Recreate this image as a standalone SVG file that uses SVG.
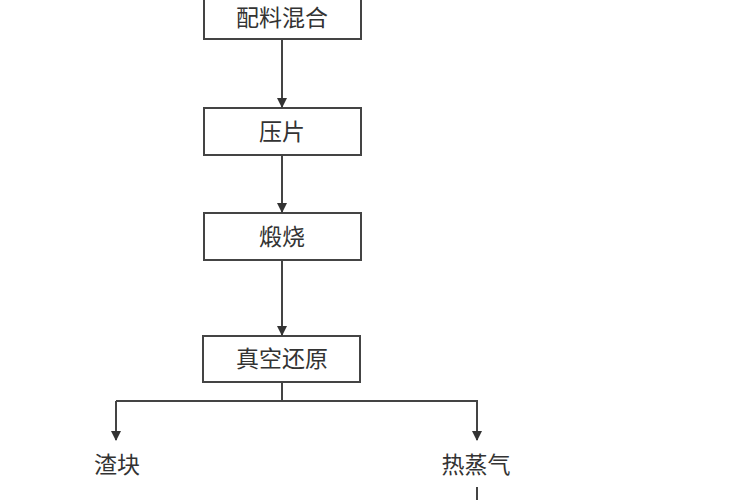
<svg xmlns="http://www.w3.org/2000/svg" width="750" height="500" viewBox="0 0 750 500">
<style>
.b{fill:#fff;stroke:#444;stroke-width:2}
.t{font-family:"Noto Sans CJK SC",sans-serif;font-size:23px;fill:#333;text-anchor:middle}
.c{stroke:#444;stroke-width:2;fill:none}
</style>
<defs><marker id="a" markerWidth="10" markerHeight="10" refX="9" refY="5" orient="auto" markerUnits="userSpaceOnUse"><path d="M0,0L10,5L0,10Z" fill="#333"/></marker></defs>
<rect width="750" height="500" fill="#fff"/>
<g id="n1"><rect class="b" x="204" y="-2" width="157" height="41"/><text class="t" x="282" y="26">配料混合</text></g>
<g id="n2"><rect class="b" x="204" y="108" width="157" height="47"/><text class="t" x="282" y="140">压片</text></g>
<g id="n3"><rect class="b" x="204" y="213" width="157" height="47"/><text class="t" x="282" y="245">煅烧</text></g>
<g id="n4"><rect class="b" x="203" y="336" width="157" height="46"/><text class="t" x="282" y="367">真空还原</text></g>
<g id="n5"><text class="t" x="117" y="473">渣块</text></g>
<g id="n6"><text class="t" x="476" y="473">热蒸气</text></g>
<g id="conn">
<line class="c" x1="282" y1="39" x2="282" y2="107" marker-end="url(#a)"/>
<line class="c" x1="282" y1="155" x2="282" y2="212" marker-end="url(#a)"/>
<line class="c" x1="282" y1="260" x2="282" y2="335" marker-end="url(#a)"/>
<line class="c" x1="282" y1="382" x2="282" y2="401"/>
<polyline class="c" points="116,401 477,401 477,440" marker-end="url(#a)"/>
<line class="c" x1="116" y1="401" x2="116" y2="440" marker-end="url(#a)"/>
<line class="c" x1="477" y1="487" x2="477" y2="500"/>
</g>
</svg>
